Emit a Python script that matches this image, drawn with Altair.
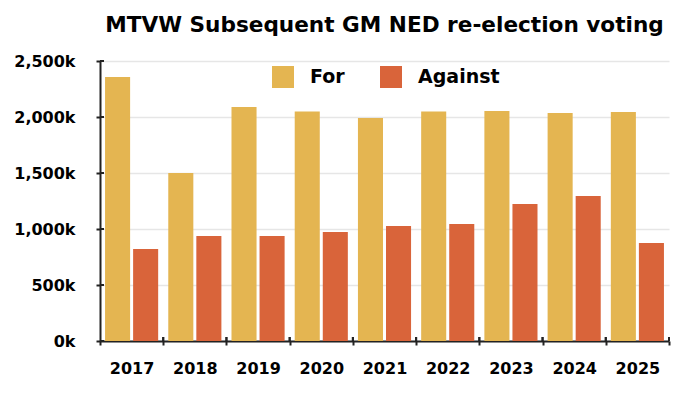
import altair as alt
import pandas as pd

years = ["2017", "2018", "2019", "2020", "2021", "2022", "2023", "2024", "2025"]
for_votes = [2357, 1500, 2089, 2048, 1991, 2048, 2054, 2036, 2045]        # thousands
against_votes = [821, 937, 937, 973, 1027, 1045, 1223, 1295, 875]       # thousands
series = ["For", "Against"]
colors = ["#E4B551", "#D9643A"]
y_ticks = [0, 500, 1000, 1500, 2000, 2500]
title_text = ["MTVW Subsequent GM NED re-election voting"]

rows = []
for i, yr in enumerate(years):
    rows.append({"year": yr, "series": "For", "votes": for_votes[i]})
    rows.append({"year": yr, "series": "Against", "votes": against_votes[i]})
df = pd.DataFrame(rows)
ticks_df = pd.DataFrame({"votes": y_ticks})
title_df = pd.DataFrame({"t": title_text})

W, H = 569, 280
FONT = "DejaVu Sans"
AX = "#222222"

yscale = alt.Scale(domain=[0, 2500], nice=False)

bars = alt.Chart(df).mark_bar().encode(
    x=alt.X("year:N", sort=years, title=None,
            scale=alt.Scale(paddingInner=0, paddingOuter=0),
            axis=alt.Axis(labelAngle=0, tickBand="extent", tickSize=4, tickWidth=2,
                          tickColor=AX, domainColor=AX, domainWidth=2,
                          labelFontSize=16, labelFontWeight="bold", labelFont=FONT,
                          labelPadding=15, labelColor="#000", grid=False)),
    xOffset=alt.XOffset("series:N", sort=series,
                        scale=alt.Scale(paddingInner=0.107, paddingOuter=0.18)),
    y=alt.Y("votes:Q", title=None, scale=yscale,
            axis=alt.Axis(values=y_ticks, labelExpr="format(datum.value, ',') + 'k'",
                          tickSize=4, tickWidth=2, tickColor=AX, domainColor=AX,
                          domainWidth=2, grid=True, gridColor="#e6e6e6", gridWidth=1.5,
                          labelFontSize=16, labelFontWeight="bold", labelFont=FONT,
                          labelPadding=21, labelColor="#000")),
    color=alt.Color("series:N", sort=series,
                    scale=alt.Scale(domain=series, range=colors),
                    legend=alt.Legend(title=None, orient="none", direction="horizontal",
                                      legendX=172, legendY=5, symbolType="square",
                                      symbolSize=484, symbolStrokeWidth=0,
                                      symbolOpacity=1, labelFont=FONT, labelFontSize=19,
                                      labelFontWeight="bold", labelColor="#000",
                                      labelOffset=16, columnPadding=35)),
)

xticks_in = alt.Chart(df).mark_rule(color=AX, strokeWidth=2).encode(
    x=alt.X("year:N", sort=years, bandPosition=1),
    y=alt.value(H - 4), y2=alt.value(H),
)

yticks_in = alt.Chart(ticks_df).mark_rule(color=AX, strokeWidth=2).encode(
    y=alt.Y("votes:Q", scale=yscale),
    x=alt.value(0), x2=alt.value(4),
)

title = alt.Chart(title_df).mark_text(
    font=FONT, fontSize=21.6, fontWeight="bold", color="#000",
    align="center", baseline="alphabetic",
).encode(text="t:N", x=alt.value(W / 2), y=alt.value(-29))

chart = alt.layer(bars, xticks_in, yticks_in, title).properties(
    width=W, height=H,
    padding={"left": 92, "top": 53, "right": 23, "bottom": 51},
    autosize=alt.AutoSizeParams(type="none"),
).configure_view(stroke=None)

chart.save("out.html", embed_options={"renderer": "svg", "actions": False})
